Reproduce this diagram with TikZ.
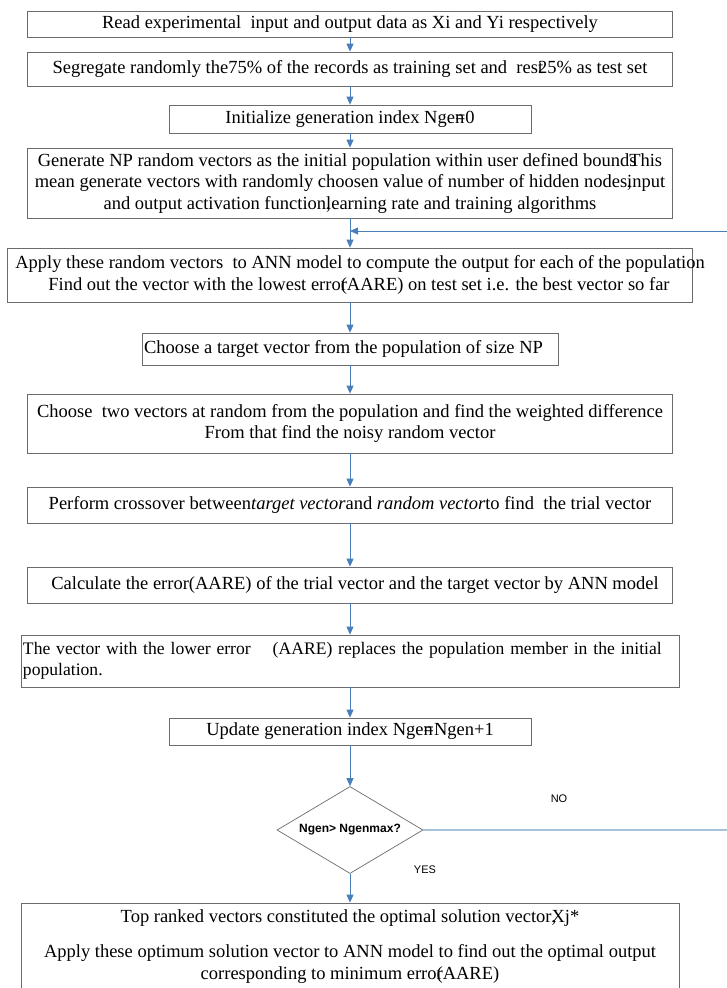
\documentclass[tikz,border=0pt]{standalone}
\usepackage{fontspec}
\setmainfont{Liberation Serif}
\setsansfont{Liberation Sans}
\usetikzlibrary{arrows.meta, shapes.geometric}
\definecolor{flowblue}{HTML}{4A7EBB}
\definecolor{noblue}{HTML}{A7C3DC}
\definecolor{boxgray}{HTML}{6B6B6B}
\tikzstyle{stepbox} = [
    rectangle, 
    draw=boxgray, 
    line width=0.8pt, 
    align=center, 
    inner sep=0pt, % boxes get their size from minimum width/height
    font=\fontsize{18.5}{21.5}\selectfont
]
\tikzstyle{test} = [
    diamond, 
    draw=boxgray, 
    line width=0.7pt, 
    aspect=1.68, 
    inner sep=0pt, 
    minimum width=146pt, 
    minimum height=87pt, 
    font=\sffamily\bfseries\fontsize{12}{14}\selectfont
]
\tikzstyle{answer} = [
    inner sep=0pt, 
    font=\sffamily\fontsize{11}{13}\selectfont
]
\tikzstyle{flow} = [
    draw=flowblue, 
    line width=0.8pt, 
    -{Triangle[length=8pt, width=7pt]}
]
\tikzstyle{noline} = [
    draw=noblue, 
    line width=1.2pt
]
\begin{document}
\begin{tikzpicture}[x=1pt, y=-1pt]
\useasboundingbox (0,0) rectangle (726,988);
\node [stepbox, minimum width=645pt, minimum height=26pt] (read) at (350,24)
    {Read experimental\ \ input and output data as Xi and Yi respectively};
\node [stepbox, minimum width=645pt, minimum height=34pt] (split) at (350,69)
    {Segregate randomly the75\% of the records as training set and\ \ res\rlap{t}25\% as test set};
\node [stepbox, minimum width=362pt, minimum height=28pt] (init) at (350,119)
    {Initialize generation index Nge\rlap{n}=0};
\node [stepbox, minimum width=645pt, minimum height=70pt] (gen) at (350,183)
    {Generate NP random vectors as the initial population within user defined bound\rlap{s}This\\
     mean generate vectors with randomly choosen value of number of hidden nodes\rlap{,}input\\
     and output activation function\rlap{,}learning rate and training algorithms};
\node [stepbox, minimum width=685pt, minimum height=54pt] (apply) at (350,275)
    {\makebox[600pt]{\hspace*{20pt}Apply these random vectors\ \ to ANN model to compute the output for each of the population}\\
     \hspace*{18pt}Find out the vector with the lowest erro\rlap{r}(AARE) on test set i.e. the best vector so far};
\node [stepbox, minimum width=416pt, minimum height=32pt] (target) at (350,349)
    {\hspace*{-13pt}Choose a target vector from the population of size NP};
\node [stepbox, minimum width=645pt, minimum height=59pt] (mutate) at (350,423.5)
    {Choose\ \ two vectors at random from the population and find the weighted difference\\
     From that find the noisy random vector};
\node [stepbox, minimum width=645pt, minimum height=36pt] (cross) at (350,505)
    {Perform crossover between\textit{target vector}and \textit{random vector}to find\ \ the trial vector};
\node [stepbox, minimum width=645pt, minimum height=36pt] (eval) at (350,585)
    {\hspace*{10pt}Calculate the error(AARE) of the trial vector and the target vector by ANN model};
\node [stepbox, minimum width=658pt, minimum height=52pt, text width=654pt, inner xsep=2pt, align=left,
       font=\fontsize{17.6}{21.5}\selectfont] (select) at (350,661)
    {\mbox{The vector with the lower error\hspace{22pt}(AARE)\ replaces the population member in the initial}\\
     population.};
\node [stepbox, minimum width=362pt, minimum height=27pt] (update) at (350,731.5)
    {Update generation index Nge\rlap{n}=Ngen+1};
\node [test] (check) at (350,830) {Ngen> Ngenmax?};
\node [stepbox, minimum width=658pt, minimum height=88pt] (best) at (350,947)
    {Top ranked vectors constituted the optimal solution vector\rlap{,}Xj*\\[13pt]
     Apply these optimum solution vector to ANN model to find out the optimal output\\[1pt]
     corresponding to minimum erro\rlap{r}(AARE)};
\node [answer] (no) at (559,799) {NO};
\node [answer] (yes) at (425,870) {YES};
\coordinate (loop) at (350,231);
\coordinate (turn) at (740,830);
% main flow
\draw [flow] (read) -- (split);
\draw [flow] (split) -- (init);
\draw [flow] (init) -- (gen);
\draw [flow] (gen) -- (apply);
\draw [flow] (apply) -- (target);
\draw [flow] (target) -- (mutate);
\draw [flow] (mutate) -- (cross);
\draw [flow] (cross) -- (eval);
\draw [flow] (eval) -- (select);
\draw [flow] (select) -- (update);
\draw [flow] (update) -- (check);
\draw [flow] (check) -- (best);
% back to the population step
\draw [noline] (check) -- (turn);
\draw [flow] (turn) |- (loop);
\end{tikzpicture}
\end{document}
